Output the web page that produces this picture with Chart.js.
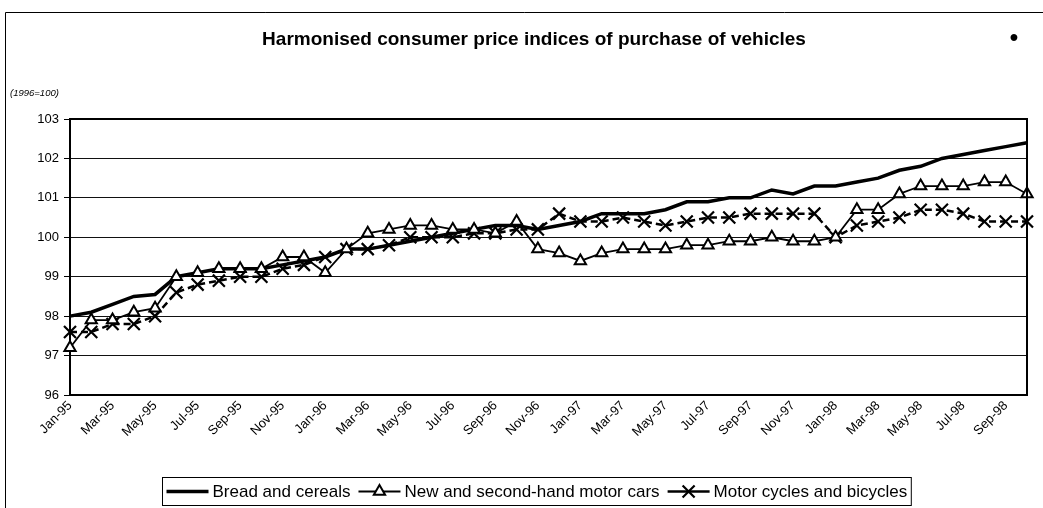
<!DOCTYPE html>
<html>
<head>
<meta charset="utf-8">
<script src="https://cdn.jsdelivr.net/npm/chart.js@4/dist/chart.umd.min.js"></script>
<style>
  html, body { margin: 0; padding: 0; background: #fff; }
  #wrap { position: relative; width: 1043px; height: 508px; }
  canvas { display: block; }
</style>
</head>
<body>
<div id="wrap"><canvas id="c" width="1043" height="508"></canvas></div>
<script>
const months = ['Jan-95','Feb-95','Mar-95','Apr-95','May-95','Jun-95','Jul-95','Aug-95','Sep-95','Oct-95','Nov-95','Dec-95',
  'Jan-96','Feb-96','Mar-96','Apr-96','May-96','Jun-96','Jul-96','Aug-96','Sep-96','Oct-96','Nov-96','Dec-96',
  'Jan-97','Feb-97','Mar-97','Apr-97','May-97','Jun-97','Jul-97','Aug-97','Sep-97','Oct-97','Nov-97','Dec-97',
  'Jan-98','Feb-98','Mar-98','Apr-98','May-98','Jun-98','Jul-98','Aug-98','Sep-98','Oct-98'];

const breadCereals = [98.0, 98.1, 98.3, 98.5, 98.55, 99.0, 99.1, 99.2, 99.2, 99.2, 99.3, 99.4,
  99.5, 99.7, 99.7, 99.8, 99.9, 100.0, 100.1, 100.2, 100.3, 100.3, 100.2, 100.3,
  100.4, 100.6, 100.6, 100.6, 100.7, 100.9, 100.9, 101.0, 101.0, 101.2, 101.1, 101.3,
  101.3, 101.4, 101.5, 101.7, 101.8, 102.0, 102.1, 102.2, 102.3, 102.4];

const motorCars = [97.2, 97.9, 97.9, 98.1, 98.2, 99.0, 99.1, 99.2, 99.2, 99.2, 99.5, 99.5,
  99.1, 99.7, 100.1, 100.2, 100.3, 100.3, 100.2, 100.2, 100.1, 100.4, 99.7, 99.6,
  99.4, 99.6, 99.7, 99.7, 99.7, 99.8, 99.8, 99.9, 99.9, 100.0, 99.9, 99.9,
  100.0, 100.7, 100.7, 101.1, 101.3, 101.3, 101.3, 101.4, 101.4, 101.1];

const motorCycles = [97.6, 97.6, 97.8, 97.8, 98.0, 98.6, 98.8, 98.9, 99.0, 99.0, 99.2, 99.3,
  99.5, 99.7, 99.7, 99.8, 100.0, 100.0, 100.0, 100.1, 100.1, 100.2, 100.2, 100.6,
  100.4, 100.4, 100.5, 100.4, 100.3, 100.4, 100.5, 100.5, 100.6, 100.6, 100.6, 100.6,
  100.0, 100.3, 100.4, 100.5, 100.7, 100.7, 100.6, 100.4, 100.4, 100.4];

const seriesNames = ['Bread and cereals', 'New and second-hand motor cars', 'Motor cycles and bicycles'];
const titleText = 'Harmonised consumer price indices of purchase of vehicles';
const unitText = '(1996=100)';
const yMin = 96, yMax = 103, yStep = 1;

const FONT = "'Liberation Sans', Arial, sans-serif";

const decorPlugin = {
  id: 'decor',
  beforeDraw(chart) {
    const ctx = chart.ctx;
    ctx.save();
    ctx.fillStyle = '#fff';
    ctx.fillRect(0, 0, chart.width, chart.height);
    // outer frame (top & left visible)
    ctx.strokeStyle = '#000';
    ctx.lineWidth = 1;
    ctx.beginPath();
    ctx.moveTo(5.5, chart.height + 2);
    ctx.lineTo(5.5, 12.5);
    ctx.lineTo(chart.width + 2, 12.5);
    ctx.stroke();
    // title
    ctx.fillStyle = '#000';
    ctx.font = 'bold 19px ' + FONT;
    ctx.textAlign = 'center';
    ctx.textBaseline = 'middle';
    ctx.fillText(titleText, 534, 40);
    ctx.font = 'bold 24px ' + FONT;
    ctx.fillText('\u2022', 1014, 38);
    // unit label
    ctx.font = 'italic 9.5px ' + FONT;
    ctx.textAlign = 'left';
    ctx.fillText(unitText, 10, 93);
    ctx.restore();
  },
  afterDraw(chart) {
    const ctx = chart.ctx;
    const a = chart.chartArea;
    ctx.save();
    ctx.strokeStyle = '#000';
    ctx.lineWidth = 2;
    ctx.beginPath();
    ctx.moveTo(a.left, a.top);
    ctx.lineTo(a.right, a.top);
    ctx.lineTo(a.right, a.bottom);
    ctx.stroke();

    // legend
    const ds = chart.data.datasets;
    ctx.font = '17px ' + FONT;
    const sampleW = 42, gapA = 4, gapB = 8, pad = 4;
    let total = pad;
    ds.forEach((d, i) => {
      total += sampleW + gapA + ctx.measureText(d.label).width + (i < ds.length - 1 ? gapB : 0);
    });
    total += pad;
    const cx = 536.5;
    const bx = Math.round(cx - total / 2) + 0.5, by = 477.5, bh = 28;
    ctx.fillStyle = '#fff';
    ctx.fillRect(bx, by, total, bh);
    ctx.lineWidth = 1;
    ctx.strokeStyle = '#000';
    ctx.strokeRect(bx, by, total, bh);
    let x = bx + pad;
    const ym = by + bh / 2;
    ds.forEach((d, i) => {
      ctx.save();
      ctx.strokeStyle = d.borderColor;
      ctx.lineWidth = d.borderWidth;
      ctx.setLineDash([]);
      ctx.beginPath();
      ctx.moveTo(x, ym);
      ctx.lineTo(x + sampleW, ym);
      ctx.stroke();
      if (d.pointRadius > 0) {
        ctx.fillStyle = d.pointBackgroundColor;
        ctx.strokeStyle = d.pointBorderColor;
        ctx.lineWidth = d.pointBorderWidth;
        Chart.helpers.drawPoint(ctx, {
          pointStyle: d.pointStyle,
          radius: d.pointRadius,
          borderWidth: d.pointBorderWidth,
          rotation: 0
        }, x + sampleW / 2, ym);
      }
      ctx.restore();
      x += sampleW + gapA;
      ctx.fillStyle = '#000';
      ctx.textAlign = 'left';
      ctx.textBaseline = 'middle';
      ctx.fillText(d.label, x, ym + 1);
      x += ctx.measureText(d.label).width + gapB;
    });
    ctx.restore();
  }
};

new Chart(document.getElementById('c'), {
  type: 'line',
  data: {
    labels: months,
    datasets: [
      {
        label: seriesNames[0],
        data: breadCereals,
        borderColor: '#000',
        borderWidth: 3.5,
        pointRadius: 0,
        pointHoverRadius: 0,
        tension: 0,
        fill: false,
        order: 3
      },
      {
        label: seriesNames[1],
        data: motorCars,
        borderColor: '#000',
        borderWidth: 1.8,
        pointStyle: 'triangle',
        pointRadius: 6.5,
        pointBackgroundColor: '#fff',
        pointBorderColor: '#000',
        pointBorderWidth: 2,
        tension: 0,
        fill: false,
        order: 1
      },
      {
        label: seriesNames[2],
        data: motorCycles,
        borderColor: '#000',
        borderWidth: 2.5,
        borderDash: [7, 4],
        pointStyle: 'crossRot',
        pointRadius: 8.5,
        pointBackgroundColor: '#fff',
        pointBorderColor: '#000',
        pointBorderWidth: 2.2,
        tension: 0,
        fill: false,
        order: 2
      }
    ]
  },
  options: {
    responsive: false,
    animation: false,
    devicePixelRatio: 1,
    layout: { padding: { top: 119, right: 16, bottom: 53, left: 0 } },
    plugins: {
      legend: { display: false },
      title: { display: false },
      tooltip: { enabled: false }
    },
    scales: {
      x: {
        type: 'category',
        offset: false,
        afterFit(scale) { scale.height = 60; },
        grid: { display: false, drawTicks: false },
        border: { display: true, color: '#000', width: 2 },
        ticks: {
          autoSkip: false,
          maxRotation: 45,
          minRotation: 45,
          padding: 3,
          color: '#000',
          font: { family: FONT, size: 13 },
          callback(value, index) { return index % 2 === 0 ? this.getLabelForValue(value) : ''; }
        }
      },
      y: {
        min: yMin,
        max: yMax,
        afterFit(scale) { scale.width = 70; },
        grid: { color: '#111', lineWidth: 1, tickLength: 6, drawTicks: true, tickColor: '#000' },
        border: { display: true, color: '#000', width: 2 },
        ticks: {
          stepSize: yStep,
          padding: 5,
          color: '#000',
          font: { family: FONT, size: 13 }
        }
      }
    }
  },
  plugins: [decorPlugin]
});
</script>
</body>
</html>
